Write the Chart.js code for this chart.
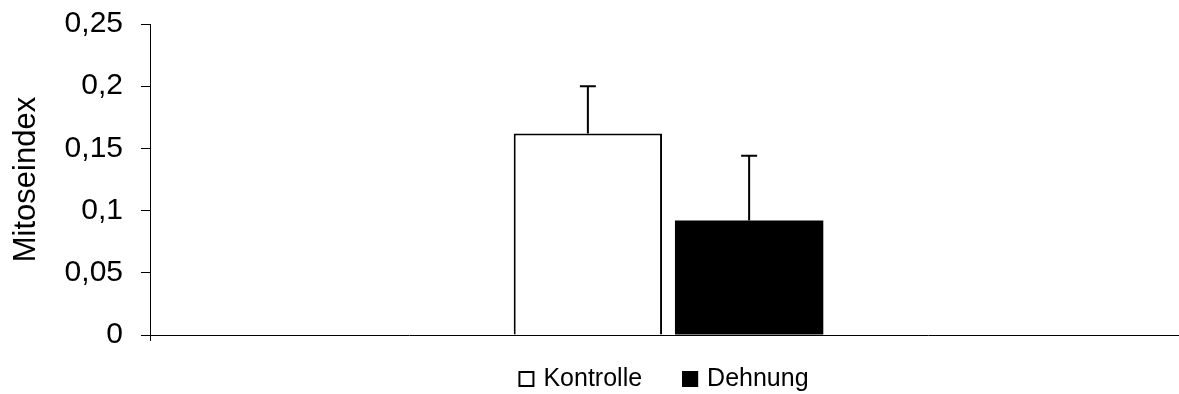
<!DOCTYPE html>
<html>
<head>
<meta charset="utf-8">
<script src="https://cdn.jsdelivr.net/npm/chart.js@4"></script>
<style>
  html, body { margin: 0; padding: 0; background: #fff; overflow: hidden; }
  #wrap { width: 1187px; height: 394px; }
</style>
</head>
<body>
<div id="wrap"><canvas id="mitose"></canvas></div>
<script>
// Werte
const kategorien = [''];
const kontrolle = [0.162];
const kontrolleFehler = [0.038];
const dehnung = [0.092];
const dehnungFehler = [0.052];
const yTicks = [0, 0.05, 0.1, 0.15, 0.2, 0.25];

const schrift = 'Liberation Sans, Arial, sans-serif';

// Fehlerbalken (nur nach oben) ueber jedem Balken
const fehlerbalken = {
    id: 'fehlerbalken',
    afterDatasetsDraw(chart) {
        const ctx = chart.ctx;
        const y = chart.scales.y;
        chart.data.datasets.forEach((ds, i) => {
            const meta = chart.getDatasetMeta(i);
            meta.data.forEach((bar, j) => {
                const wert = ds.data[j];
                const top = y.getPixelForValue(wert + ds.fehler[j]);
                ctx.save();
                ctx.strokeStyle = '#000';
                ctx.lineWidth = 2;
                ctx.beginPath();
                ctx.moveTo(bar.x, bar.y);
                ctx.lineTo(bar.x, top);
                ctx.moveTo(bar.x - 8, top);
                ctx.lineTo(bar.x + 8, top);
                ctx.stroke();
                ctx.restore();
            });
        });
    }
};

// Legende unter der Achse: Kaestchen dicht am Text, weiter Abstand zwischen Eintraegen
const legende = {
    id: 'legende',
    afterDraw(chart) {
        const ctx = chart.ctx;
        const box = 16, luecke = 9, abstand = 40;
        const yMitte = chart.chartArea.bottom + 44;
        ctx.save();
        ctx.font = '25px ' + schrift;
        const breiten = chart.data.datasets.map((ds) => ctx.measureText(ds.label).width);
        const gesamt = breiten.reduce((s, b) => s + box + luecke + b, 0) + abstand * (breiten.length - 1);
        let x = (chart.chartArea.left + chart.chartArea.right) / 2 - gesamt / 2 - 5;
        chart.data.datasets.forEach((ds, i) => {
            ctx.fillStyle = ds.backgroundColor;
            ctx.fillRect(x, yMitte - box / 2, box, box);
            ctx.strokeStyle = '#000';
            ctx.lineWidth = 2;
            ctx.strokeRect(x + 1, yMitte - box / 2 + 1, box - 2, box - 2);
            ctx.fillStyle = '#000';
            ctx.textBaseline = 'middle';
            ctx.textAlign = 'left';
            ctx.fillText(ds.label, x + box + luecke, yMitte);
            x += box + luecke + breiten[i] + abstand;
        });
        ctx.restore();
    }
};

new Chart(document.getElementById('mitose'), {
    type: 'bar',
    data: {
        labels: kategorien,
        datasets: [
            {
                label: 'Kontrolle',
                data: kontrolle,
                fehler: kontrolleFehler,
                backgroundColor: '#fff',
                borderColor: '#000',
                borderWidth: 2,
                barPercentage: 0.92,
                categoryPercentage: 0.311,
            },
            {
                label: 'Dehnung',
                data: dehnung,
                fehler: dehnungFehler,
                backgroundColor: '#000',
                borderColor: '#000',
                borderWidth: 0,
                barPercentage: 0.92,
                categoryPercentage: 0.311,
            },
        ],
    },
    options: {
        responsive: true,
        maintainAspectRatio: false,
        animation: false,
        layout: {
            padding: { top: 0, right: 0, left: 0, bottom: 53 },
        },
        scales: {
            y: {
                min: 0,
                max: 0.25,
                afterFit: (scale) => { scale.width = 150; },
                afterBuildTicks: (scale) => {
                    scale.ticks = yTicks.map((v) => ({ value: v }));
                },
                border: { color: '#000', width: 1 },
                grid: {
                    drawOnChartArea: false,
                    color: '#000',
                    tickLength: 9,
                },
                ticks: {
                    color: '#000',
                    padding: 18,
                    font: { family: schrift, size: 30, lineHeight: 0.4 },
                    callback: (v) => String(Math.round(v * 100) / 100).replace('.', ','),
                },
                title: {
                    display: true,
                    text: 'Mitoseindex',
                    color: '#000',
                    padding: { top: 8, bottom: 0 },
                    font: { family: schrift, size: 31 },
                },
            },
            x: {
                afterFit: (scale) => { scale.height = 6; },
                border: { color: '#000', width: 1 },
                grid: {
                    offset: true,
                    drawOnChartArea: false,
                    color: '#000',
                    tickLength: 6,
                },
                ticks: { display: false },
            },
        },
        plugins: {
            legend: { display: false },
            tooltip: { enabled: false },
        },
    },
    plugins: [fehlerbalken, legende],
});
</script>
</body>
</html>
